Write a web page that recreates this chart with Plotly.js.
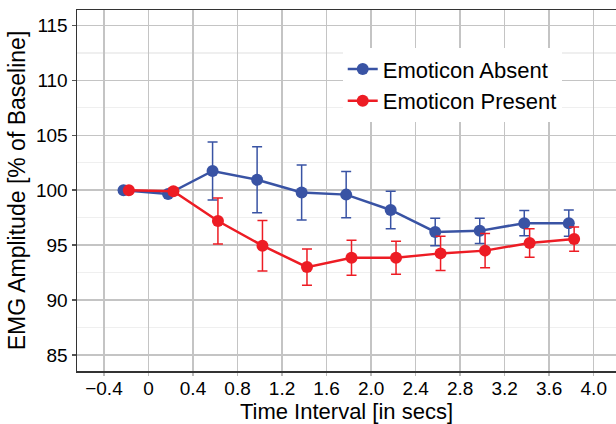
<!DOCTYPE html>
<html>
<head>
<meta charset="utf-8">
<script src="https://cdn.plot.ly/plotly-3.0.1.min.js"></script>
<style>html,body{margin:0;padding:0;background:#fff;}#chart{width:616px;height:424px;}</style>
</head>
<body>
<div id="chart"></div>
<script>
// Time points (seconds)
const times = [-0.2, 0.2, 0.6, 1.0, 1.4, 1.8, 2.2, 2.6, 3.0, 3.4, 3.8];
// Emoticon Absent
const absentMean = [100, 99.65, 101.75, 100.95, 99.8, 99.6, 98.2, 96.2, 96.3, 97.0, 97.0];
const absentErr  = [0, 0.15, 2.65, 3.0, 2.5, 2.1, 1.7, 1.25, 1.15, 1.15, 1.2];
// Emoticon Present
const presentMean = [100, 99.9, 97.2, 94.95, 93.0, 93.85, 93.85, 94.25, 94.5, 95.2, 95.55];
const presentErr  = [0.1, 0.3, 2.1, 2.3, 1.65, 1.6, 1.5, 1.55, 1.55, 1.3, 1.1];
// Axis ticks
const xTickVals = [-0.4, 0, 0.4, 0.8, 1.2, 1.6, 2.0, 2.4, 2.8, 3.2, 3.6, 4.0];
const xTickText = ["\u22120.4", "0", "0.4", "0.8", "1.2", "1.6", "2.0", "2.4", "2.8", "3.2", "3.6", "4.0"];
const yTickVals = [85, 90, 95, 100, 105, 110, 115];

const dodge = 0.024;
const BLUE = '#3953A4', RED = '#ED1C24';
const FONT = 'Liberation Sans, Arial, sans-serif';

function series(name, mean, err, off, color) {
  return {
    type: 'scatter', mode: 'lines+markers', name: name,
    x: times.map(t => t + off), y: mean,
    line: {color: color, width: 2.5},
    marker: {color: color, size: 12},
    error_y: {type: 'data', array: err, visible: true, color: color, thickness: 1.5, width: 5}
  };
}

const data = [
  series('Emoticon Absent', absentMean, absentErr, -dodge, BLUE),
  series('Emoticon Present', presentMean, presentErr, dodge, RED)
];

const layout = {
  width: 616, height: 424,
  margin: {l: 77, r: 0, t: 10, b: 53},
  paper_bgcolor: '#fff', plot_bgcolor: '#fff',
  font: {family: FONT, color: '#000'},
  showlegend: true,
  legend: {x: 0.493, y: 0.894, xanchor: 'left', yanchor: 'top',
           bgcolor: '#fff', font: {size: 22, family: FONT, color: '#000'},
           tracegroupgap: 0, itemwidth: 30},
  xaxis: {
    range: [-0.642, 4.2],
    tickvals: xTickVals, ticktext: xTickText,
    tickfont: {size: 19, family: FONT, color: '#000'},
    ticks: 'outside', ticklen: 3, tickcolor: '#bbb', tickwidth: 1.5,
    ticklabelstandoff: -3,
    showgrid: true, gridcolor: '#c4c4c4', gridwidth: 1.5,
    showline: true, linecolor: '#333', linewidth: 1.5, mirror: true,
    zeroline: false,
    title: {text: 'Time Interval [in secs]', font: {size: 22, family: FONT, color: '#000'}, standoff: 2}
  },
  yaxis: {
    range: [83.54, 116.41],
    tickvals: yTickVals,
    tickfont: {size: 19, family: FONT, color: '#000'},
    ticks: 'outside', ticklen: 4, tickcolor: '#555', tickwidth: 1.5,
    showgrid: true, gridcolor: '#c4c4c4', gridwidth: 1.5,
    minor: {dtick: 2.5, tick0: 0, showgrid: true, gridcolor: '#efefef', gridwidth: 1.2, ticks: ''},
    showline: true, linecolor: '#333', linewidth: 1.5, mirror: false,
    zeroline: false,
    title: {text: 'EMG Amplitude [% of Baseline]', font: {size: 23, family: FONT, color: '#000'}, standoff: 4}
  }
};

Plotly.newPlot('chart', data, layout, {displayModeBar: false, staticPlot: true});
</script>
</body>
</html>
